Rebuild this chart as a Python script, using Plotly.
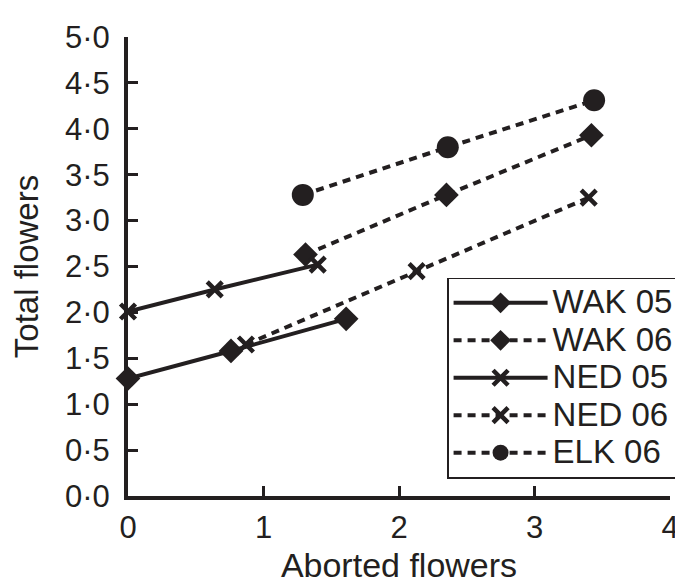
import plotly.graph_objects as go

# Data
wak05_x = [0.0, 0.76, 1.61]
wak05_y = [1.28, 1.58, 1.93]
wak06_x = [1.31, 2.35, 3.42]
wak06_y = [2.63, 3.28, 3.93]
ned05_x = [0.0, 0.64, 1.40]
ned05_y = [2.01, 2.25, 2.52]
ned06_x = [0.87, 2.13, 3.40]
ned06_y = [1.65, 2.45, 3.25]
elk06_x = [1.29, 2.36, 3.44]
elk06_y = [3.28, 3.80, 4.31]

series_names = ["WAK 05", "WAK 06", "NED 05", "NED 06", "ELK 06"]

x_ticks = [0, 1, 2, 3, 4]
x_ticklabels = ["0", "1", "2", "3", "4"]
y_ticks = [0, 0.5, 1, 1.5, 2, 2.5, 3, 3.5, 4, 4.5, 5]
y_ticklabels = ["0·0", "0·5", "1·0", "1·5", "2·0", "2·5", "3·0", "3·5", "4·0", "4·5", "5·0"]

INK = "#231f20"
FONT = "Liberation Sans, Arial, Helvetica, sans-serif"
DASH = "8px,6px"

fig = go.Figure()

def add(name, xs, ys, symbol, dash, size, xline=False):
    marker = dict(symbol=symbol, size=size, color=INK)
    if xline:
        marker["line"] = dict(width=4.5, color=INK)
    fig.add_trace(go.Scatter(
        x=xs, y=ys,
        name='<span style="font-size:33px">' + name + '</span>',
        mode="lines+markers",
        line=dict(color=INK, width=4, dash=dash),
        marker=marker, cliponaxis=False,
    ))

add(series_names[0], wak05_x, wak05_y, "diamond", "solid", 19)
add(series_names[1], wak06_x, wak06_y, "diamond", DASH, 19)
add(series_names[2], ned05_x, ned05_y, "x-thin-open", "solid", 15, True)
add(series_names[3], ned06_x, ned06_y, "x-thin-open", DASH, 15, True)
add(series_names[4], elk06_x, elk06_y, "circle", DASH, 22)

axis_common = dict(
    showline=True, linecolor=INK, linewidth=4,
    ticks="inside", ticklen=10, tickwidth=3, tickcolor=INK,
    showgrid=False, zeroline=False, mirror=False,
    tickfont=dict(family=FONT, size=31, color=INK),
)

fig.update_layout(
    width=683, height=583,
    margin=dict(l=117, r=19, t=18, b=90),
    paper_bgcolor="white", plot_bgcolor="white",
    font=dict(family=FONT, size=30, color=INK),
    xaxis=dict(range=[0, 4], tickvals=x_ticks, ticktext=x_ticklabels,
               title=dict(text="Aborted flowers", font=dict(family=FONT, size=34, color=INK), standoff=10),
               ticklabelstandoff=1, **axis_common),
    yaxis=dict(range=[0, 5], tickvals=y_ticks, ticktext=y_ticklabels,
               title=dict(text="Total flowers", font=dict(family=FONT, size=33, color=INK), standoff=22),
               ticklabelstandoff=8, **axis_common),
    showlegend=True,
    legend=dict(
        x=0.5887, y=0.4758, xanchor="left", yanchor="top",
        bgcolor="white", bordercolor=INK, borderwidth=1.5,
        font=dict(family=FONT, size=26.5, color=INK),
        itemwidth=94, tracegroupgap=0,
    ),
)

fig.write_html("out.html")
